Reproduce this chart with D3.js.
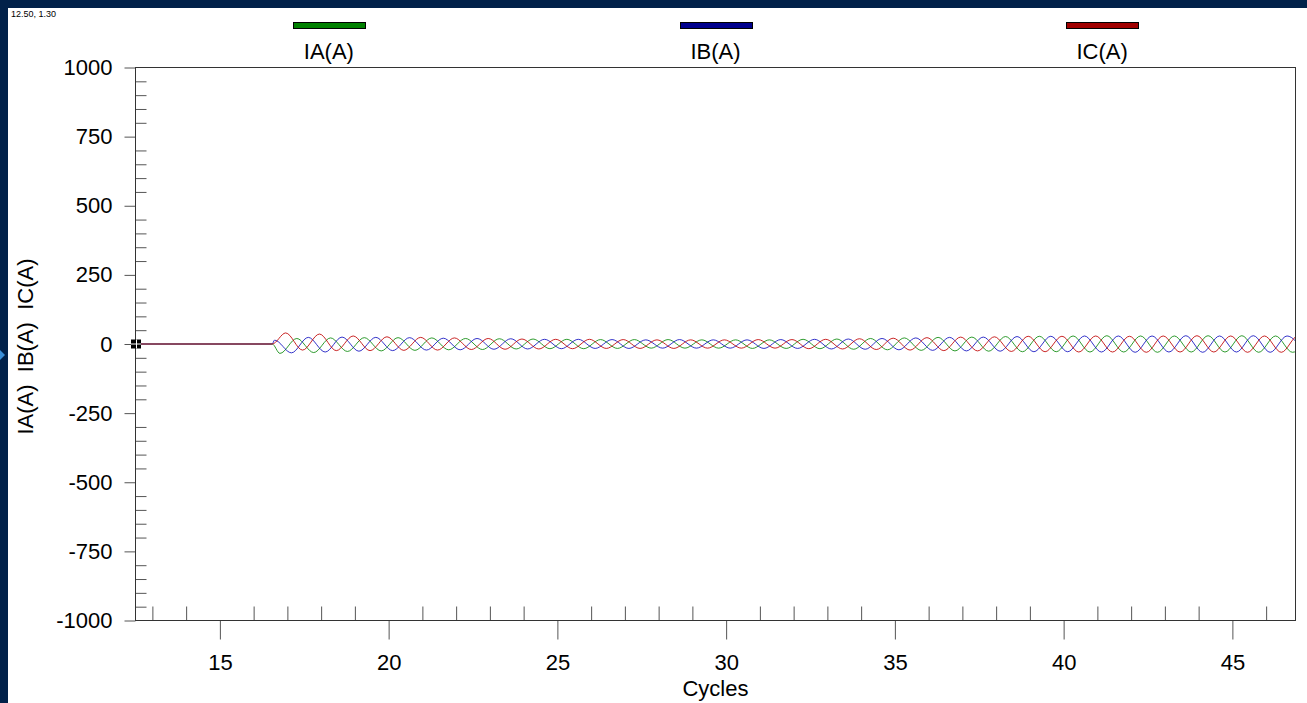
<!DOCTYPE html>
<html><head><meta charset="utf-8">
<script src="https://cdn.jsdelivr.net/npm/d3@7"></script>
<style>
html,body{margin:0;padding:0;background:#012149;overflow:hidden}
svg{display:block}
text{font-family:"Liberation Sans",Arial,sans-serif;fill:#000}
</style></head><body>
<svg id="chart" width="1307" height="703"></svg>
<script>
// ---- data ----
const seriesNames = ["IA(A)", "IB(A)", "IC(A)"];
const seriesColors = ["#008000", "#00008c", "#a00000"];
const xTickValues = [15, 20, 25, 30, 35, 40, 45];
const yTickValues = [-1000, -750, -500, -250, 0, 250, 500, 750, 1000];
const xDomain = [12.5, 46.87];
const yDomain = [-1000, 1000];
const onsetCycle = 16.55;          // cycle where the current starts flowing
const halfCycle = 0.5;             // spacing between successive peaks (cycles)
const firstPeakIA = 16.78;
const firstPeakIB = 16.62;
const firstPeakIC = 16.95;
// successive half-cycle peak values (A)
const peaksIA = [-34, 20, -31, 22, -27, 23, -25, 23, -23, 22, -21, 20, -20, 19, -18, 18, -17, 17, -17, 16,
  -16, 16, -15, 16, -15, 15, -15, 15, -16, 15, -16, 17, -17, 18, -19, 20, -21, 22, -23, 24,
  -25, 25, -26, 27, -28, 28, -28, 29, -29, 30, -29, 29, -30, 29, -29, 30, -29, 30, -30, 29, -30, 29];
const peaksIB = [14, -32, 24, -29, 25, -26, 24, -24, 23, -22, 21, -21, 20, -19, 19, -18, 17, -17, 17, -16,
  16, -16, 15, -15, 16, -15, 15, -15, 15, -16, 16, -16, 17, -18, 18, -19, 20, -21, 22, -23,
  24, -25, 25, -26, 27, -28, 28, -28, 29, -29, 29, -30, 29, -29, 30, -30, 29, -29, 30, -30, 29, -30];
const peaksIC = [40, -22, 36, -24, 29, -24, 26, -23, 24, -22, 22, -20, 20, -19, 18, -18, 17, -17, 17, -16,
  16, -16, 15, -16, 15, -15, 15, -15, 16, -15, 16, -17, 17, -18, 19, -20, 21, -22, 23, -24,
  25, -25, 26, -27, 28, -28, 28, -29, 29, -29, 28, -30, 29, -29, 30, -29, 29, -30, 29, -30, 30, -29];
const cursorLabel = "12.50, 1.30";
const xTitle = "Cycles";
const yTitle = "IA(A)  IB(A)  IC(A)";

// ---- drawing ----
const W = 1307, H = 703;
const svg = d3.select("#chart");
svg.append("rect").attr("x", 0).attr("y", 0).attr("width", W).attr("height", H).attr("fill", "#012149");
svg.append("rect").attr("x", 8).attr("y", 8).attr("width", W - 8).attr("height", H - 8).attr("fill", "#fff");
svg.append("path").attr("d", "M0,350L5,355L0,360Z").attr("fill", "#3b8fd8");

const plot = {left: 135.5, right: 1295.5, top: 67.5, bottom: 620.5};
const x = d3.scaleLinear().domain(xDomain).range([plot.left, plot.right]);
const y = d3.scaleLinear().domain(yDomain).range([plot.bottom, plot.top]);

svg.append("text").attr("x", 11).attr("y", 17).attr("font-size", 9).attr("fill", "#222").text(cursorLabel);

// legend
seriesNames.forEach((name, i) => {
  const cx = plot.left + (2 * i + 1) * (plot.right - plot.left) / 6;
  svg.append("rect").attr("x", Math.round(cx - 36) + 0.5).attr("y", 22.5).attr("width", 72).attr("height", 6)
    .attr("fill", seriesColors[i]).attr("stroke", "#000").attr("stroke-width", 1);
  svg.append("text").attr("x", cx).attr("y", 59).attr("text-anchor", "middle").attr("font-size", 22).text(name);
});

// minor ticks
const yMinor = d3.range(-1000, 1001, 50).filter(v => v % 250 !== 0);
const xMinor = d3.range(13, 47, 1).filter(v => v % 5 !== 0);

const gYMinor = svg.append("g").attr("transform", `translate(${plot.left},0)`)
  .call(d3.axisRight(y).tickValues(yMinor).tickSize(11).tickSizeOuter(0).tickFormat(""));
const gXMinor = svg.append("g").attr("transform", `translate(0,${plot.bottom})`)
  .call(d3.axisTop(x).tickValues(xMinor).tickSize(14).tickSizeOuter(0).tickFormat(""));
const gY = svg.append("g").attr("transform", `translate(${plot.left},0)`)
  .call(d3.axisLeft(y).tickValues(yTickValues).tickSize(11).tickSizeOuter(0).tickPadding(12).tickFormat(d3.format("d")));
const gX = svg.append("g").attr("transform", `translate(0,${plot.bottom})`)
  .call(d3.axisBottom(x).tickValues(xTickValues).tickSize(19).tickSizeOuter(0).tickPadding(15));
[gYMinor, gXMinor, gY, gX].forEach(g => {
  g.select(".domain").remove();
  g.selectAll(".tick line").attr("stroke", "#555");
  g.selectAll(".tick text").attr("font-size", 22).attr("font-family", '"Liberation Sans",Arial,sans-serif').attr("fill", "#000");
});
gY.selectAll(".tick text").text(d => d < 0 ? "-" + Math.abs(d) : d);

// traces
svg.append("clipPath").attr("id", "clip").append("rect")
  .attr("x", plot.left).attr("y", plot.top).attr("width", plot.right - plot.left).attr("height", plot.bottom - plot.top);
const line = d3.line().x(d => x(d[0])).y(d => y(d[1])).curve(d3.curveMonotoneX);
const build = (first, peaks) => [[xDomain[0], 0], [onsetCycle, 0]].concat(peaks.map((v, i) => [first + i * halfCycle, v]));
const traces = [
  {pts: build(firstPeakIA, peaksIA), color: "#0a8a0a"},
  {pts: build(firstPeakIB, peaksIB), color: "#1010c0"},
  {pts: build(firstPeakIC, peaksIC), color: "#c00000"}
];
const gT = svg.append("g").attr("clip-path", "url(#clip)");
traces.forEach(t => {
  gT.append("path").attr("d", line(t.pts)).attr("fill", "none").attr("stroke", t.color)
    .attr("stroke-width", 1).attr("stroke-opacity", 0.85);
});

// frame
svg.append("rect").attr("x", plot.left).attr("y", plot.top).attr("width", plot.right - plot.left)
  .attr("height", plot.bottom - plot.top).attr("fill", "none").attr("stroke", "#333").attr("stroke-width", 1);

// cursor marker
const mx = Math.round(x(xDomain[0])), my = Math.round(y(0));
svg.append("rect").attr("x", mx - 5).attr("y", my - 4.5).attr("width", 10).attr("height", 9).attr("fill", "#000");
svg.append("path").attr("d", `M${mx - 5},${my}H${mx + 5}M${mx + 0.5},${my - 4.5}V${my + 4.5}`)
  .attr("stroke", "#fff").attr("stroke-width", 1);

// titles
svg.append("text").attr("x", (plot.left + plot.right) / 2).attr("y", 696).attr("text-anchor", "middle")
  .attr("font-size", 22).text(xTitle);
svg.append("text").attr("transform", "translate(33,346.5) rotate(-90)").attr("text-anchor", "middle")
  .attr("font-size", 22).style("white-space", "pre").text(yTitle);
</script>
</body></html>
